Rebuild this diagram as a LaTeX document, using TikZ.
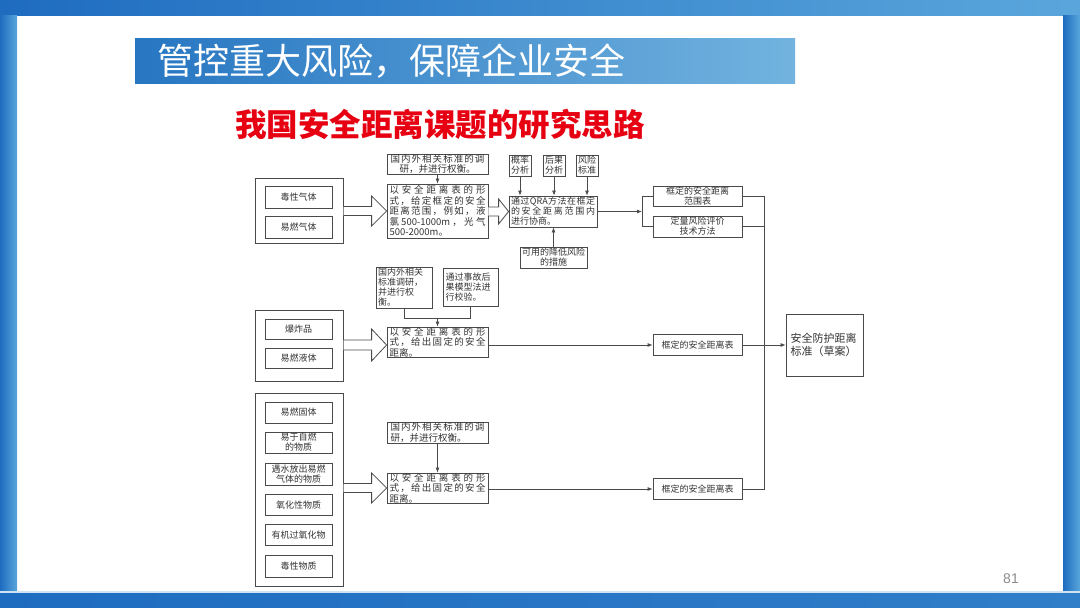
\documentclass[tikz,border=0pt]{standalone}
\usepackage{fontspec}
\setmainfont{Noto Sans CJK SC}
\newfontfamily\lsans{Liberation Sans}
\usetikzlibrary{arrows.meta,calc}
\definecolor{ln}{HTML}{4A4A4A}
\definecolor{tx}{HTML}{333333}
\definecolor{fr1}{HTML}{1E6CC0}
\definecolor{fr2}{HTML}{5AA6DC}
\definecolor{tb1}{HTML}{2776C2}
\definecolor{tb2}{HTML}{72B3DF}
\definecolor{rd}{HTML}{E60012}
\makeatletter
\newcommand\jl[1]{\hbox to\hsize{\@tempswafalse\@tfor\jx:=#1\do{\if@tempswa\hfil\fi\jx\@tempswatrue}}}
\makeatother
\newcommand\jbox[2]{\vbox{\hsize=#1\relax #2}}
\newcommand\harrow[5]{%
  \draw[hollow] let \p1=(#1), \p2=(#2) in
   (\x1,\y2+#3pt) -- (\x2-#5pt,\y2+#3pt) -- (\x2-#5pt,\y2+#4pt) -- (\x2,\y2)
   -- (\x2-#5pt,\y2-#4pt) -- (\x2-#5pt,\y2-#3pt) -- (\x1,\y2-#3pt);}
\tikzset{
  box/.style={draw=ln, line width=0.8pt, fill=white, inner sep=0pt, text=tx,
    font=\fontsize{9}{10.5}\selectfont, align=center},
  sz/.style 2 args={minimum width=#1, minimum height=#2},
  grp/.style={box, line width=1pt},
  conn/.style={draw=ln, line width=0.8pt},
  arr/.style={conn, -{Latex[length=5pt,width=4pt]}},
  hollow/.style={draw=ln, line width=0.8pt, fill=white, line join=miter},
  jtext/.style={font=\fontsize{9.5}{10.4}\selectfont}
}
\begin{document}
\begin{tikzpicture}[x=1pt,y=-1pt]
\useasboundingbox (0,0) rectangle (1080,608);
% frame
\fill[white] (0,0) rectangle (1080,608);
\shade[left color=fr1, right color=fr2] (0,0) rectangle (1080,15);
\shade[left color=fr1, right color=fr2] (0,15) rectangle (17,592);
\shade[left color=fr1, right color=fr2] (1063,15) rectangle (1080,592);
\shade[left color=fr1, right color=fr1!70!fr2] (0,592) rectangle (1080,608);
\fill[white!70!fr2] (0,591) rectangle (1080,592.5);
% title
\shade[left color=tb1, right color=tb2] (135,38) rectangle (795,83);
\node[anchor=west, inner sep=0pt, text=white, font=\fontsize{36}{40}\selectfont] (title) at (157,61) {管控重大风险，保障企业安全};
\node[anchor=west, inner sep=0pt, text=rd, font=\bfseries\fontsize{31.5}{36}\selectfont] (sub) at (235,124) {我国安全距离课题的研究思路};
\node[inner sep=0pt, text=black!45, font=\lsans\fontsize{14}{16}\selectfont] (pg) at (1011,579) {81};

% group 1
\node[grp, sz={88}{65}] (G1) at (299,210.5) {};
\node[box, sz={67}{22}] (g1a) at (298.5,197) {毒性气体};
\node[box, sz={67}{22}] (g1b) at (298.5,227) {易燃气体};
\node[box, sz={101}{20}, jtext] (A1) at (437.5,164) {\jbox{94pt}{\jl{国内外相关标准的调}\hbox to\hsize{\hfil 研，并进行权衡。\hfil}}};
\node[box, sz={101}{54}, jtext] (A2) at (437.5,211) {\jbox{96pt}{\jl{以安全距离表的形}\jl{式，给定框定的安全}\jl{距离范围，例如，液}\jl{氯{500-1000m}，光气}\hbox{500-2000m。}}};
\node[box, sz={88}{31}, font=\fontsize{9}{10}\selectfont] (QRA) at (553,211.5) {\jbox{84pt}{\jl{通过{QRA}方法在框定}\jl{的安全距离范围内}\hbox{进行协商。}}};
\node[box, sz={22}{21}, font=\fontsize{9}{10}\selectfont] (P1) at (520,165.5) {概率\\分析};
\node[box, sz={22}{21}, font=\fontsize{9}{10}\selectfont] (P2) at (554,165.5) {后果\\分析};
\node[box, sz={22}{21}, font=\fontsize{9}{10}\selectfont] (P3) at (587,165.5) {风险\\标准};
\node[box, sz={67}{21}, font=\fontsize{9}{10}\selectfont] (M) at (553.5,257.5) {可用的降低风险\\的措施};
\node[box, sz={89}{20}, font=\fontsize{9}{10}\selectfont] (B1) at (697.5,196) {框定的安全距离\\范围表};
\node[box, sz={89}{21}, font=\fontsize{9}{10}\selectfont] (B2) at (697.5,226.5) {定量风险评价\\技术方法};

% group 2
\node[grp, sz={88}{71}] (G2) at (299,345.5) {};
\node[box, sz={67}{20}] (g2a) at (298.5,329) {爆炸品};
\node[box, sz={67}{20}] (g2b) at (298.5,358) {易燃液体};
\node[box, sz={56}{41}, text width=52pt, font=\fontsize{9}{10}\selectfont, align=left] (C1a) at (404,287.5) {国内外相关\\标准调研，\\并进行权\\衡。};
\node[box, sz={55}{38}, text width=50pt, font=\fontsize{9}{10}\selectfont, align=left] (C1b) at (470.5,287) {通过事故后\\果模型法进\\行校验。};
\node[box, sz={101}{30}, jtext] (C2) at (437.5,342) {\jbox{96pt}{\jl{以安全距离表的形}\jl{式，给出固定的安全}\hbox{距离。}}};
\node[box, sz={89}{21}] (D) at (697.5,345) {框定的安全距离表};

% group 3
\node[grp, sz={88}{193}] (G3) at (299,489.5) {};
\node[box, sz={67}{21}] (g3a) at (298.5,412.5) {易燃固体};
\node[box, sz={67}{21}, font=\fontsize{9}{10}\selectfont] (g3b) at (298.5,442.5) {易于自燃\\的物质};
\node[box, sz={67}{22}, font=\fontsize{9}{10}\selectfont] (g3c) at (298.5,474) {遇水放出易燃\\气体的物质};
\node[box, sz={67}{21}] (g3d) at (298.5,505) {氧化性物质};
\node[box, sz={67}{21}] (g3e) at (298.5,535) {有机过氧化物};
\node[box, sz={67}{22}] (g3f) at (298.5,566) {毒性物质};
\node[box, sz={101}{21}, jtext] (E1) at (437.5,432.5) {\jbox{94pt}{\jl{国内外相关标准的调}\hbox{研，并进行权衡。}}};
\node[box, sz={101}{30}, jtext] (E2) at (437.5,488) {\jbox{96pt}{\jl{以安全距离表的形}\jl{式，给出固定的安全}\hbox{距离。}}};
\node[box, sz={89}{21}] (F) at (697.5,489) {框定的安全距离表};

% final
\node[box, sz={77}{62}, font=\fontsize{11}{13.5}\selectfont, text width=68pt, align=left] (Z) at (824.5,345) {安全防护距离\\标准（草案）};

% hollow arrows
\harrow{G1.east}{A2.west}{4.5}{15}{15}
\harrow{A2.east}{QRA.west}{4.5}{12.5}{10}
\harrow{G2.east}{$(C2.west)+(0,3)$}{5}{16}{15}
\harrow{G3.east}{E2.west}{4.5}{15}{15}

% connectors group 1
\draw[arr] (A1.south) -- (A2.north);
\draw[arr] (P1.south) -- (P1.south |- QRA.north);
\draw[arr] (P2.south) -- (P2.south |- QRA.north);
\draw[arr] (P3.south) -- (P3.south |- QRA.north);
\draw[arr] (M.north) -- (M.north |- QRA.south);
\coordinate (br) at (642,211.5);
\draw[arr] (QRA.east) -- (br);
\draw[conn] (B1.west) -- (B1.west -| br) -- (B2.west -| br) -- (B2.west);
\coordinate (tr) at (764,345);
\draw[conn] (B1.east) -- (B1.east -| tr) -- (F.east -| tr) -- (F.east);
\draw[conn] (B2.east) -- (B2.east -| tr);
\draw[arr] (D.east) -- (Z.west);
% group 2
\coordinate (jc) at ($(C2.north)+(0,-8)$);
\draw[conn] (C1a.south) -- (C1a.south |- jc) -- (C1b.south |- jc) -- (C1b.south);
\draw[arr] (jc) -- (C2.north);
\draw[arr] (C2.east |- D.west) -- (D.west);
% group 3
\draw[arr] (E1.south) -- (E2.north);
\draw[arr] (E2.east |- F.west) -- (F.west);
\end{tikzpicture}
\end{document}
